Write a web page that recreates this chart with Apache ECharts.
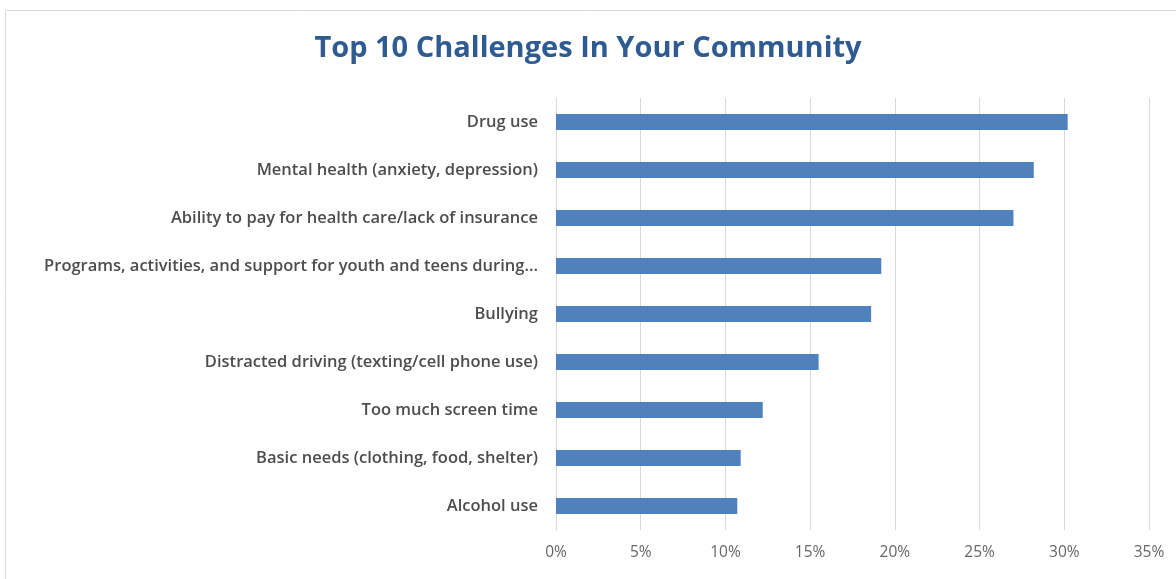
<!DOCTYPE html>
<html>
<head>
<meta charset="utf-8">
<script src="https://cdn.jsdelivr.net/npm/echarts@6/dist/echarts.min.js"></script>
<style>
html, body { margin: 0; padding: 0; background: #fff; }
#chart { width: 1176px; height: 579px; }
</style>
</head>
<body>
<div id="chart"></div>
<script>
var categories = [
    'Drug use',
    'Mental health (anxiety, depression)',
    'Ability to pay for health care/lack of insurance',
    'Programs, activities, and support for youth and teens during...',
    'Bullying',
    'Distracted driving (texting/cell phone use)',
    'Too much screen time',
    'Basic needs (clothing, food, shelter)',
    'Alcohol use'
];
var values = [30.2, 28.2, 27.0, 19.2, 18.6, 15.5, 12.2, 10.9, 10.7];
var tickLabels = ['0%', '5%', '10%', '15%', '20%', '25%', '30%', '35%'];

(function(){

var chart = echarts.init(document.getElementById('chart'));

option = {
    backgroundColor: '#fff',
    title: {
        text: 'Top 10 Challenges In Your Community',
        left: 'center',
        top: 29,
        textStyle: {
            fontFamily: 'Open Sans',
            fontSize: 29,
            fontWeight: 'bold',
            color: '#2f5b93'
        }
    },
    graphic: [
        {
            type: 'rect',
            shape: { x: 5.5, y: 10.5, width: 1200, height: 600 },
            style: { fill: 'none', stroke: '#d9d9d9', lineWidth: 1 },
            silent: true
        }
    ],
    grid: {
        left: 556,
        right: 27,
        top: 98,
        bottom: 49
    },
    xAxis: {
        type: 'value',
        min: 0,
        max: 35,
        interval: 5,
        axisLine: { show: false },
        axisTick: { show: false },
        splitLine: { lineStyle: { color: '#d9d9d9', width: 1 } },
        axisLabel: {
            margin: 15,
            fontFamily: 'Open Sans',
            fontSize: 15.5,
            color: '#666666',
            formatter: function (v) { return tickLabels[Math.round(v / 5)]; }
        }
    },
    yAxis: {
        type: 'category',
        inverse: true,
        data: categories,
        axisLine: { show: true, lineStyle: { color: '#d9d9d9' } },
        axisTick: { show: false },
        axisLabel: {
            margin: 18,
            fontFamily: 'Open Sans',
            fontSize: 16.5,
            fontWeight: 600,
            color: '#4d4d4d'
        }
    },
    series: [
        {
            type: 'bar',
            data: values,
            barWidth: 16,
            itemStyle: { color: '#4f81bd' },
            silent: true
        }
    ]
};

chart.setOption(option);
})();
</script>
</body>
</html>
